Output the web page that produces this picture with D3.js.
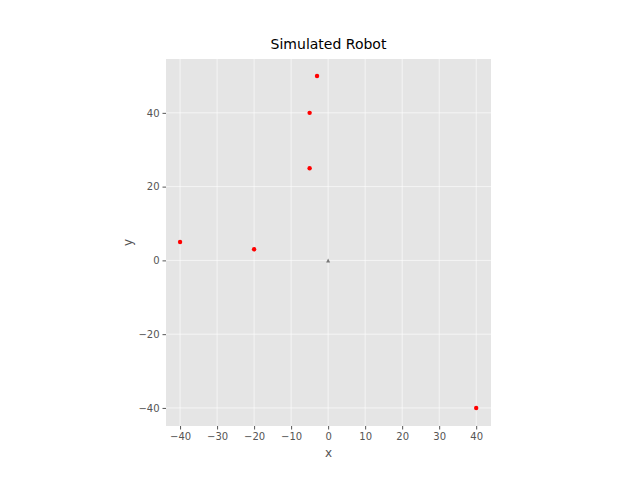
<!DOCTYPE html>
<html><head><meta charset="utf-8">
<script src="https://cdn.jsdelivr.net/npm/d3@7"></script>
<style>body{margin:0;background:#fff}text{font-family:"DejaVu Sans",sans-serif}</style>
</head><body><div id="chart"></div>
<script>
// landmarks and robot pose
const landmarkX = [-40, -20, -5, -5, -3, 40];
const landmarkY = [5, 3, 25, 40, 50, -40];
const robotX = [0];
const robotY = [0];
const xTicks = [-40, -30, -20, -10, 0, 10, 20, 30, 40];
const yTicks = [-40, -20, 0, 20, 40];

const width = 640, height = 480;
const padL = 166, padR = 491, padT = 59, padB = 426;

const x = d3.scaleLinear().domain([-43.8, 44]).range([padL, padR]);
const y = d3.scaleLinear().domain([-44.9, 54.6]).range([padB, padT]);

const svg = d3.select('#chart').append('svg')
  .attr('width', width).attr('height', height);

svg.append('rect').attr('x', padL).attr('y', padT)
  .attr('width', padR - padL).attr('height', padB - padT).attr('fill', '#e5e5e5');

// grid
svg.append('g').selectAll('line').data(xTicks).enter().append('line')
  .attr('x1', d => x(d)).attr('x2', d => x(d)).attr('y1', padT).attr('y2', padB)
  .attr('stroke', '#fff').attr('stroke-width', 0.8).attr('opacity', 0.8);
svg.append('g').selectAll('line').data(yTicks).enter().append('line')
  .attr('y1', d => y(d)).attr('y2', d => y(d)).attr('x1', padL).attr('x2', padR)
  .attr('stroke', '#fff').attr('stroke-width', 0.8).attr('opacity', 0.8);

const fmt = d => d < 0 ? '\u2212' + (-d) : d;
const xAxis = svg.append('g').attr('transform', `translate(0,${padB})`)
  .call(d3.axisBottom(x).tickValues(xTicks).tickSize(3.5).tickPadding(3).tickFormat(fmt));
const yAxis = svg.append('g').attr('transform', `translate(${padL},0)`)
  .call(d3.axisLeft(y).tickValues(yTicks).tickSize(3.5).tickPadding(3).tickFormat(fmt));
[xAxis, yAxis].forEach(a => {
  a.select('.domain').remove();
  a.selectAll('line').attr('stroke', '#555');
  a.selectAll('text').attr('fill', '#555').attr('font-size', 10);
});

svg.append('text').attr('x', (padL + padR) / 2).attr('y', 457).attr('text-anchor', 'middle')
  .attr('font-size', 12).attr('fill', '#555').text('x');
svg.append('text').attr('transform', `translate(132,${(padT + padB) / 2}) rotate(-90)`)
  .attr('text-anchor', 'middle').attr('font-size', 12).attr('fill', '#555').text('y');
svg.append('text').attr('x', (padL + padR) / 2).attr('y', 49).attr('text-anchor', 'middle')
  .attr('font-size', 14).attr('fill', '#000').text('Simulated Robot');

svg.append('g').selectAll('circle').data(landmarkX).enter().append('circle')
  .attr('cx', d => x(d)).attr('cy', (d, i) => y(landmarkY[i])).attr('r', 2.2).attr('fill', 'red');

svg.append('g').selectAll('path').data(robotX).enter().append('path')
  .attr('transform', (d, i) => `translate(${x(d)},${y(robotY[i])})`)
  .attr('d', 'M-2,2 L0,-2 L2,2 Z').attr('fill', '#777');
</script></body></html>
